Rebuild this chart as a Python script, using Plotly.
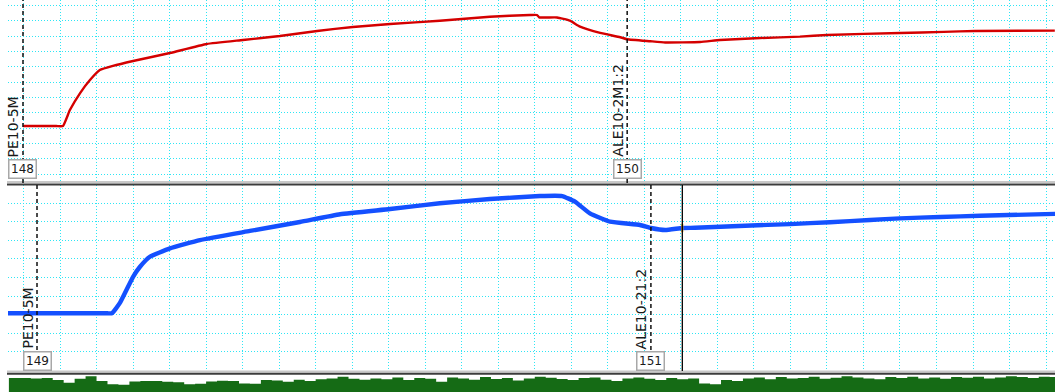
import plotly.graph_objects as go

# ---------------- data ----------------
# time axis: one grid division = 10 units
red_t = [-0.1, 5.0, 9.0, 10.8, 12.7, 15.5, 18.2, 20.9, 24.5, 30.0, 40.1, 50.2, 60.1, 70.2, 80.4,
         90.2, 100.4, 114.0, 127.7, 138.7, 140.6, 141.2, 146.1, 149.6, 152.4, 157.9,
         163.4, 165.3, 171.6, 175.7, 185.3, 190.7, 201.7, 212.6, 220.0, 240.0, 252.0,
         260.5, 282.4]
red_v = [3.13, 3.13, 3.13, 3.13, 4.17, 5.28, 6.13, 6.78, 7.05, 7.37, 7.89, 8.48, 8.74, 9.00, 9.33,
         9.59, 9.78, 10.00, 10.26, 10.37, 10.37, 10.22, 10.21, 10.00, 9.61, 9.20,
         8.92, 8.79, 8.66, 8.58, 8.61, 8.74, 8.87, 8.96, 9.07, 9.20, 9.27,
         9.33, 9.35]

blue_t = [-4.3, 10.0, 20.0, 23.0, 24.2, 26.4, 30.0, 31.9, 34.6, 40.1, 48.3, 62.0, 75.7, 86.7, 100.4, 114.0,
          127.7, 141.4, 147.5, 151.0, 155.1, 160.6, 168.8, 171.8, 175.7, 180.4, 183.9,
          197.6, 209.9, 220.8, 231.8, 240.0, 251.0, 261.9, 282.5]
blue_v = [2.07, 2.07, 2.07, 2.07, 2.07, 2.63, 4.04, 4.58, 5.12, 5.57, 6.02, 6.51, 6.99, 7.41, 7.69, 8.00,
          8.23, 8.39, 8.39, 8.09, 7.46, 7.01, 6.83, 6.67, 6.56, 6.67, 6.68,
          6.79, 6.88, 6.98, 7.10, 7.19, 7.26, 7.33, 7.43]

green_t = [-4, -1, 2, 5, 8, 11, 14, 17, 20, 23, 26, 29, 32, 35, 38, 41, 44, 47, 50, 53,
           56, 59, 62, 65, 68, 71, 74, 77, 80, 83, 86, 89, 92, 95, 98, 101, 104, 107,
           110, 113, 116, 119, 122, 125, 128, 131, 134, 137, 140, 143, 146, 149, 152,
           155, 158, 161, 164, 167, 170, 173, 176, 179, 182, 185, 188, 191, 194, 197,
           200, 203, 206, 209, 212, 215, 218, 221, 224, 227, 230, 233, 236, 239, 242,
           245, 248, 251, 254, 257, 260, 263, 266, 269, 272, 275, 278, 281, 284]
green_v = [82, 82, 80, 82, 70, 55, 78, 92, 65, 45, 42, 62, 65, 64, 60, 58, 45, 48, 62, 66,
           65, 50, 48, 70, 68, 60, 72, 65, 75, 80, 90, 78, 72, 80, 75, 85, 70, 82,
           78, 60, 85, 80, 72, 88, 76, 82, 68, 80, 90, 84, 76, 70, 82,
           86, 72, 65, 80, 85, 78, 70, 82, 75, 80, 50, 45, 70, 65, 80,
           85, 75, 88, 80, 82, 90, 78, 84, 92, 86, 80, 75, 88, 82, 90,
           80, 85, 78, 88, 84, 90, 80, 86, 92, 88, 82, 90, 88, 88]

top_marker_t = [-0.14, 165.3]
top_marker_label = ["PE10-5M", "ALE10-2M1:2"]
top_marker_id = ["148", "150"]
bot_marker_t = [3.7, 171.8]
bot_marker_label = ["PE10-5M", "ALE10-21:2"]
bot_marker_id = ["149", "151"]
cursor_t = 180.4
cursor_v = 6.67

# ---------------- figure ----------------
W, H = 1055, 392
def py(p):  # pixel row -> paper fraction
    return 1 - p / H

GRID = "#2ee6f5"
DASH = "1px,2px"
fig = go.Figure()
fig.add_trace(go.Scatter(x=red_t, y=red_v, mode="lines",
                         line=dict(color="#d40000", width=2.4, shape="spline", smoothing=0.4),
                         xaxis="x", yaxis="y", hoverinfo="skip"))
fig.add_trace(go.Scatter(x=blue_t, y=blue_v, mode="lines",
                         line=dict(color="#1450ff", width=4.4, shape="spline", smoothing=0.4),
                         xaxis="x2", yaxis="y2", hoverinfo="skip"))
fig.add_trace(go.Scatter(x=[cursor_t], y=[cursor_v], mode="markers",
                         marker=dict(symbol="line-ns", size=6, line=dict(color="#f0a000", width=2)),
                         xaxis="x2", yaxis="y2", hoverinfo="skip"))
fig.add_trace(go.Scatter(x=green_t, y=green_v, mode="lines", line=dict(color="#156b15", width=0, shape="hv"),
                         fill="tozeroy", fillcolor="#156b15", xaxis="x3", yaxis="y3", hoverinfo="skip"))

xl = 8 / W
xcommon = dict(range=[-4.244, 282.45], dtick=10, tick0=0, showgrid=True, gridcolor=GRID,
               gridwidth=1, griddash=DASH, showticklabels=False, ticks="", zeroline=False,
               showline=False, domain=[xl, 1])
ycommon = dict(showgrid=True, gridcolor=GRID, gridwidth=1, griddash=DASH,
               showticklabels=False, ticks="", zeroline=False, showline=False, dtick=1, tick0=0)

fig.update_layout(
    width=W, height=H, margin=dict(l=0, r=0, t=0, b=0),
    paper_bgcolor="white", plot_bgcolor="white", showlegend=False,
    xaxis=dict(**xcommon, anchor="y"),
    xaxis2=dict(**xcommon, anchor="y2", matches="x"),
    xaxis3=dict(**xcommon, anchor="y3", matches="x"),
    yaxis=dict(**ycommon, domain=[py(183), 1], range=[-0.587, 11.35], anchor="x"),
    yaxis2=dict(**ycommon, domain=[py(371), py(185)], range=[-1.04, 8.987], anchor="x2"),
    yaxis3=dict(showgrid=False, showticklabels=False, ticks="", zeroline=False,
                domain=[0, py(375)], range=[0, 100], anchor="x3"),
)
fig.update_xaxes(showgrid=False, selector=dict(anchor="y3"))

shapes = []
# panel separators
for light, dark in [(182, 184.5), (371.5, 373.8)]:
    shapes.append(dict(type="line", xref="paper", yref="paper", x0=7 / W, x1=1, y0=py(light), y1=py(light),
                       line=dict(color="#c8c8c8", width=2)))
    shapes.append(dict(type="line", xref="paper", yref="paper", x0=7 / W, x1=1, y0=py(dark), y1=py(dark),
                       line=dict(color="#3c3c3c", width=2)))
for t in top_marker_t:
    shapes.append(dict(type="line", xref="x", yref="y domain", x0=t, x1=t, y0=0, y1=1,
                       line=dict(color="#101010", width=1.5, dash="4px,3px")))
for t in bot_marker_t:
    shapes.append(dict(type="line", xref="x2", yref="y2 domain", x0=t, x1=t, y0=0, y1=1,
                       line=dict(color="#101010", width=1.5, dash="4px,3px")))
shapes.append(dict(type="line", xref="x2", yref="y2 domain", x0=cursor_t, x1=cursor_t, y0=0, y1=1,
                   line=dict(color="#000000", width=1.3)))
fig.update_layout(shapes=shapes)

ann = []
LBLFONT = dict(family="DejaVu Sans", size=14, color="#1a1a1a")
BOXFONT = dict(family="DejaVu Sans", size=12, color="#1a1a1a")
for t, lab, idn in zip(top_marker_t, top_marker_label, top_marker_id):
    ann.append(dict(x=t, y=(183 - 158) / 183, xref="x", yref="y domain", text=lab, textangle=-90,
                    showarrow=False, xanchor="right", yanchor="bottom", xshift=-1, font=LBLFONT, borderpad=0))
    ann.append(dict(x=t, y=(183 - 169) / 183, xref="x", yref="y domain", text=idn, showarrow=False,
                    xanchor="center", yanchor="middle", font=BOXFONT, bgcolor="white",
                    bordercolor="#a8a8a8", borderwidth=1.5, borderpad=1.5))
for t, lab, idn in zip(bot_marker_t, bot_marker_label, bot_marker_id):
    ann.append(dict(x=t, y=(371 - 350) / 186, xref="x2", yref="y2 domain", text=lab, textangle=-90,
                    showarrow=False, xanchor="right", yanchor="bottom", xshift=-1, font=LBLFONT, borderpad=0))
    ann.append(dict(x=t, y=(371 - 360.5) / 186, xref="x2", yref="y2 domain", text=idn, showarrow=False,
                    xanchor="center", yanchor="middle", font=BOXFONT, bgcolor="white",
                    bordercolor="#a8a8a8", borderwidth=1.5, borderpad=1.5))
fig.update_layout(annotations=ann)

fig.write_html("out.html", config={"displayModeBar": False},
               post_script="document.body.style.margin='0';document.body.style.overflow='hidden';")
